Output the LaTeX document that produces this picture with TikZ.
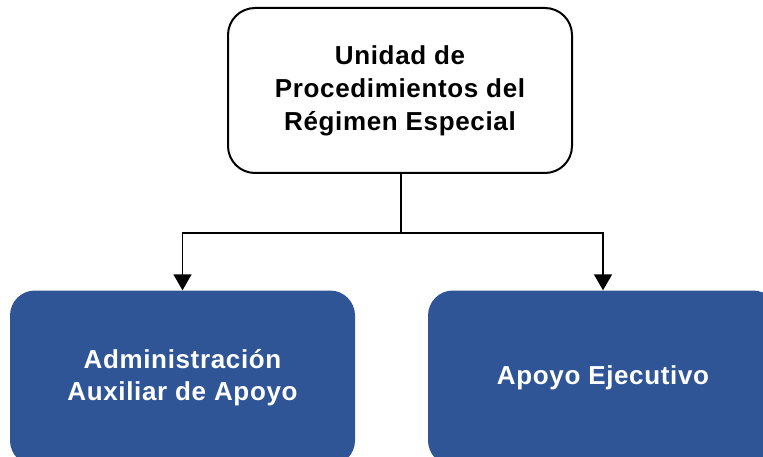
\documentclass[tikz,border=0pt]{standalone}
\usepackage{fontspec}
\setmainfont{Liberation Sans}[LetterSpace=2.5]
\usetikzlibrary{arrows.meta,positioning}
\definecolor{boxblue}{RGB}{47,85,151}
\tikzset{
  topbox/.style={draw=black, line width=2pt, rounded corners=27pt, fill=white,
    minimum width=344pt, minimum height=165pt, align=center, inner sep=0pt,
    font=\fontsize{26}{33}\selectfont\bfseries, text=black},
  bluebox/.style={draw=none, rounded corners=25pt, fill=boxblue,
    minimum height=175pt, align=center, inner sep=0pt,
    font=\fontsize{26}{32}\selectfont\bfseries, text=white},
  conn/.style={draw=black, line width=1.6pt},
  arr/.style={conn, -{Triangle[width=18pt,length=16pt]}}
}
\begin{document}
\begin{tikzpicture}[x=1pt,y=-1pt]
\useasboundingbox (0,0) rectangle (763,457);
\clip (0,0) rectangle (763,457);
\node[topbox] (top) at (400,90.5) {Unidad de\\Procedimientos del\\Régimen Especial};
\node[bluebox, minimum width=345pt] (left) at (182.5,378) {Administración\\Auxiliar de Apoyo};
\node[bluebox, minimum width=350pt] (right) at (603,378) {Apoyo Ejecutivo};
\coordinate (j) at (401,233);
\draw[conn] (top.south -| j) -- (j);
\draw[arr] (j) -| (left.north);
\draw[arr] (j) -| (right.north);
\end{tikzpicture}
\end{document}
